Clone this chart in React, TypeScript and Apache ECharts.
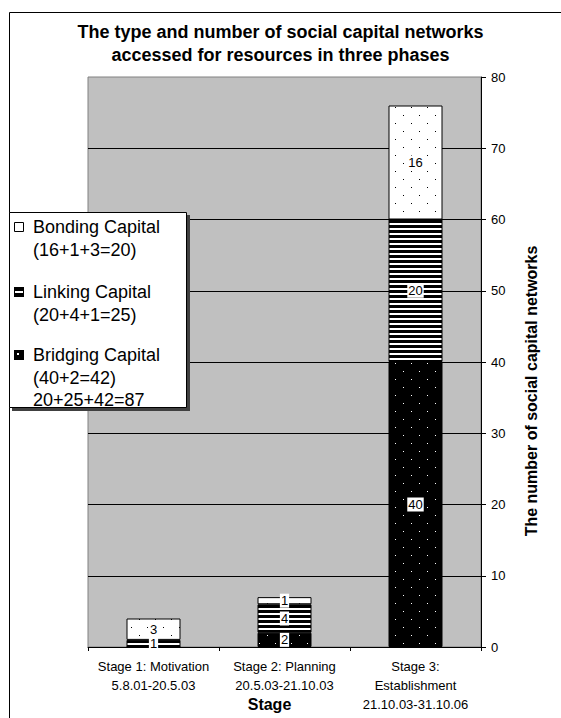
import React, { useEffect, useRef } from "react";
import * as echarts from "echarts";

const categories = [
  "Stage 1: Motivation\n5.8.01-20.5.03",
  "Stage 2: Planning\n20.5.03-21.10.03",
  "Stage 3:\nEstablishment\n21.10.03-31.10.06",
];
const bridging = [0, 2, 40];
const linking = [1, 4, 20];
const bonding = [3, 1, 16];
const seriesNames = ["Bridging Capital", "Linking Capital", "Bonding Capital"];
const yMin = 0;
const yMax = 80;
const yInterval = 10;

const FONT = "'Liberation Sans', Arial, sans-serif";

function sum(a: number[]) {
  return a.reduce((s, v) => s + v, 0);
}
function breakdown(a: number[]) {
  const parts = a.slice().reverse().filter((v) => v > 0);
  return `(${parts.join("+")}=${sum(a)})`;
}

function makeDots(bg: string, fg: string) {
  const c = document.createElement("canvas");
  c.width = 16;
  c.height = 16;
  const ctx = c.getContext("2d")!;
  ctx.fillStyle = bg;
  ctx.fillRect(0, 0, 16, 16);
  ctx.fillStyle = fg;
  ctx.fillRect(3, 3, 1, 1);
  ctx.fillRect(11, 11, 1, 1);
  return c;
}
function makeStripes() {
  const c = document.createElement("canvas");
  c.width = 4;
  c.height = 5;
  const ctx = c.getContext("2d")!;
  ctx.fillStyle = "#fff";
  ctx.fillRect(0, 0, 4, 5);
  ctx.fillStyle = "#000";
  ctx.fillRect(0, 0, 4, 3);
  return c;
}

export default function App() {
  const ref = useRef<HTMLDivElement>(null);
  useEffect(() => {
    if (!ref.current) return;
    const chart = echarts.init(ref.current, null, { renderer: "svg" });
    const patterns = [
      { image: makeDots("#000", "#fff"), repeat: "repeat" },
      { image: makeStripes(), repeat: "repeat" },
      { image: makeDots("#fff", "#000"), repeat: "repeat" },
    ];
    const dataSets = [bridging, linking, bonding];
    const series = dataSets.map((arr, i) => ({
      name: seriesNames[i],
      type: "bar",
      stack: "total",
      barWidth: 54,
      itemStyle: { color: patterns[i] as any, borderColor: "#000", borderWidth: 1 },
      label: {
        show: true,
        position: "inside",
        color: "#000",
        fontFamily: FONT,
        fontSize: 13,
        backgroundColor: "#fff",
        padding: [1, 1, 0, 1],
      },
      emphasis: { disabled: true },
      data: arr.map((v) => ({ value: v, label: { show: v > 0 } })),
    }));

    const legendTexts = [
      `${seriesNames[2]}\n${breakdown(bonding)}`,
      `${seriesNames[1]}\n${breakdown(linking)}`,
      `${seriesNames[0]}\n${breakdown(bridging)}\n${sum(bonding)}+${sum(linking)}+${sum(bridging)}=${sum(bonding) + sum(linking) + sum(bridging)}`,
    ];
    const textTops = [216, 281, 344];

    chart.setOption({
      animation: false,
      title: {
        text: "The type and number of social capital networks\naccessed for resources in three phases",
        left: "center",
        top: 20,
        padding: [0, 0, 0, 9],
        textStyle: { fontFamily: FONT, fontSize: 18, fontWeight: "bold", color: "#000", lineHeight: 23 },
      },
      grid: {
        left: 88,
        right: 80,
        top: 77,
        bottom: 71,
        show: true,
        backgroundColor: "#c0c0c0",
        borderColor: "#808080",
        borderWidth: 1,
        outerBoundsMode: "none",
      },
      xAxis: {
        type: "category",
        data: categories,
        name: "Stage",
        nameLocation: "middle",
        nameGap: 49,
        nameMoveOverlap: false,
        nameTextStyle: { fontFamily: FONT, fontSize: 16, fontWeight: "bold", color: "#000", padding: [0, 30, 0, 0] },
        axisLine: { show: true, lineStyle: { color: "#000", width: 1 } },
        axisTick: { show: true, length: 4, lineStyle: { color: "#000" } },
        axisLabel: { interval: 0, fontFamily: FONT, fontSize: 13, lineHeight: 19, color: "#000", margin: 10 },
        splitLine: { show: false },
      },
      yAxis: {
        type: "value",
        position: "right",
        min: yMin,
        max: yMax,
        interval: yInterval,
        name: "The number of social capital networks",
        nameLocation: "middle",
        nameRotate: 90,
        nameGap: 42,
        nameMoveOverlap: false,
        nameTextStyle: { fontFamily: FONT, fontSize: 16, fontWeight: "bold", color: "#000", padding: [0, 58, 0, 0] },
        axisLine: { show: true, lineStyle: { color: "#000", width: 1 } },
        axisTick: { show: true, length: 5, lineStyle: { color: "#000" } },
        axisLabel: { fontFamily: FONT, fontSize: 13, color: "#000", margin: 10 },
        splitLine: { show: true, showMinLine: false, showMaxLine: false, lineStyle: { color: "#000", width: 1 } },
      },
      series,
      graphic: [
        { type: "rect", z: 100, shape: { x: 9.5, y: 12.5, width: 700, height: 900 }, style: { fill: "none", stroke: "#000", lineWidth: 1 } },
        { type: "rect", z: 100, shape: { x: 12, y: 215, width: 178, height: 196 }, style: { fill: "#404040" } },
        { type: "rect", z: 101, shape: { x: 9.5, y: 212.5, width: 177, height: 195 }, style: { fill: "#fff", stroke: "#000", lineWidth: 1 } },
        { type: "rect", z: 102, shape: { x: 14.5, y: 222.5, width: 9, height: 9 }, style: { fill: "#fff", stroke: "#000", lineWidth: 1 } },
        { type: "rect", z: 102, shape: { x: 14, y: 287, width: 10, height: 10 }, style: { fill: "#000" } },
        { type: "rect", z: 103, shape: { x: 15, y: 291, width: 8, height: 2 }, style: { fill: "#fff" } },
        { type: "rect", z: 102, shape: { x: 14, y: 350, width: 10, height: 10 }, style: { fill: "#000" } },
        { type: "rect", z: 103, shape: { x: 17, y: 353, width: 2, height: 2 }, style: { fill: "#fff" } },
        ...legendTexts.map((t, i) => ({
          type: "text",
          z: 102,
          x: 33,
          y: textTops[i],
          style: { text: t, fill: "#000", font: `18px ${FONT}`, lineHeight: 22.5, verticalAlign: "top", align: "left" },
        })),
      ],
    } as any);
    return () => chart.dispose();
  }, []);
  return <div ref={ref} style={{ position: "absolute", left: 0, top: 0, width: 561, height: 718 }} />;
}
